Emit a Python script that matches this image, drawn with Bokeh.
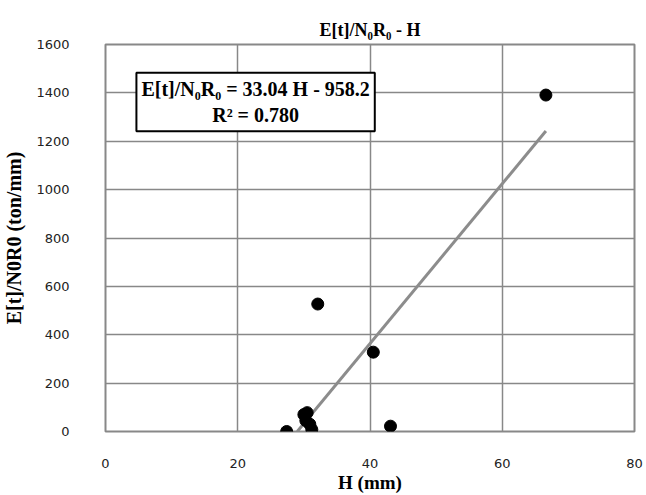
from bokeh.plotting import figure
from bokeh.models import FixedTicker, Label, ColumnDataSource
from bokeh.embed import file_html
from bokeh.resources import INLINE

# Data
H_mm = [27.4, 30.0, 30.5, 30.3, 30.9, 31.2, 32.1, 40.5, 43.1, 66.6]
E_norm = [0, 70, 78, 45, 30, 8, 527, 328, 22, 1391]
slope = 33.04
intercept = -958.2
r2 = 0.780
x_ticks = [0, 20, 40, 60, 80]
y_ticks = [0, 200, 400, 600, 800, 1000, 1200, 1400, 1600]
title_text = "E[t]/N\u2080R\u2080 - H"
x_label = "H (mm)"
y_label = "E[t]/N0R0 (ton/mm)"

p = figure(width=646, height=495, x_range=(0, 80), y_range=(0, 1600),
           output_backend="svg", toolbar_location=None,
           min_border_left=103, min_border_right=12, min_border_top=44, min_border_bottom=64)

p.title.text = title_text
p.title.align = "center"
p.title.text_font = "Liberation Serif"
p.title.text_font_size = "18px"
p.title.text_font_style = "bold"
p.title.text_color = "black"
p.title.text_line_height = 0.5
p.title.standoff = 10

p.background_fill_color = "white"
p.border_fill_color = "white"
p.outline_line_color = "#888888"
p.outline_line_width = 2

for ax in (p.xaxis[0], p.yaxis[0]):
    ax.axis_line_color = None
    ax.major_tick_line_color = None
    ax.minor_tick_line_color = None
    ax.major_label_text_font = "DejaVu Sans"
    ax.major_label_text_font_size = "13px"
    ax.major_label_text_color = "#222222"
    ax.axis_label_text_font = "Liberation Serif"
    ax.axis_label_text_font_style = "bold"
    ax.axis_label_text_color = "black"

p.xaxis.axis_label_text_font_size = "19px"
p.yaxis.axis_label_text_font_size = "20px"

p.xaxis.ticker = FixedTicker(ticks=x_ticks)
p.yaxis.ticker = FixedTicker(ticks=y_ticks)
p.xaxis.axis_label = x_label
p.yaxis.axis_label = y_label
p.xaxis.major_label_standoff = 21
p.xaxis.axis_label_standoff = 1
p.yaxis.major_label_standoff = 30
p.yaxis.axis_label_standoff = 8

p.xgrid.ticker = FixedTicker(ticks=x_ticks[1:-1])
p.ygrid.ticker = FixedTicker(ticks=y_ticks[1:-1])
p.xgrid.grid_line_color = "#888888"
p.ygrid.grid_line_color = "#888888"
p.xgrid.grid_line_width = 1.5
p.ygrid.grid_line_width = 1.5

# trendline (clipped at y = 0 like the original)
x_start = max(min(H_mm), -intercept / slope)
x_end = max(H_mm)
p.line([x_start, x_end], [slope * x_start + intercept, slope * x_end + intercept],
       line_color="#8c8c8c", line_width=3)

src = ColumnDataSource(dict(x=H_mm, y=E_norm))
p.scatter("x", "y", source=src, size=12, fill_color="black", line_color="black")

eq = Label(x=22.7, y=1483, text="E[t]/N\u2080R\u2080 = %.2f H - %.1f\nR\u00b2 = %.3f" % (slope, -intercept, r2),
           text_align="center", text_baseline="top",
           text_font="Liberation Serif", text_font_style="bold", text_font_size="20px",
           text_color="black", border_line_color="black", border_line_width=2,
           background_fill_color="white", padding=5)
p.add_layout(eq)

open("out.html", "w").write(file_html(p, INLINE))
